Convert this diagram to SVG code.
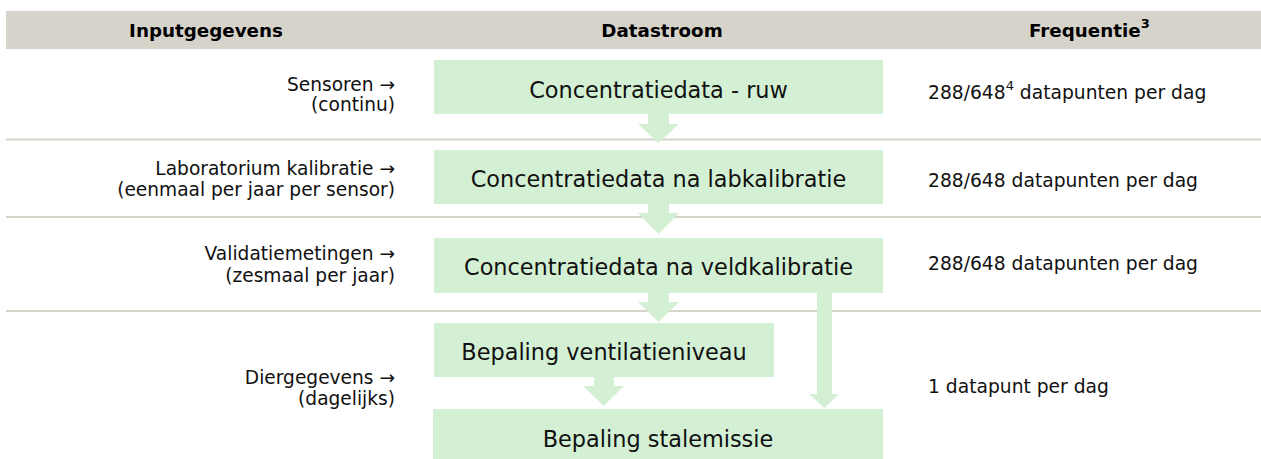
<svg xmlns="http://www.w3.org/2000/svg" width="1261" height="459" viewBox="0 0 1261 459">
<style>
.hdr{font-family:"DejaVu Sans",Verdana,sans-serif;font-weight:bold;font-size:18.3px;fill:#000}
.lab{font-family:"DejaVu Sans",Verdana,sans-serif;font-size:18.6px;fill:#111;text-anchor:end}
.frq{font-family:"DejaVu Sans",Verdana,sans-serif;font-size:18.7px;fill:#111}
.box{fill:#d4f0d4}
.btx{font-family:"DejaVu Sans",Verdana,sans-serif;font-size:22.4px;fill:#111;text-anchor:middle}
.arr{fill:#d4f0d4}
.sep{stroke:#d6d3cb;stroke-width:2}
</style>
<rect width="1261" height="459" fill="#fff"/>
<g id="header">
<rect x="6" y="11" width="1255" height="38" fill="#d6d3cb"/>
<text class="hdr" x="206" y="37" text-anchor="middle">Inputgegevens</text>
<text class="hdr" x="662" y="37" text-anchor="middle">Datastroom</text>
<text class="hdr" x="1029" y="37">Frequentie<tspan font-size="13px" dy="-9">3</tspan></text>
</g>
<g id="separators">
<line class="sep" x1="6" y1="139.5" x2="1261" y2="139.5"/>
<line class="sep" x1="6" y1="217" x2="1261" y2="217"/>
<line class="sep" x1="6" y1="311" x2="1261" y2="311"/>
</g>
<g id="inputs">
<text class="lab" x="395" y="91">Sensoren →</text>
<text class="lab" x="395" y="111">(continu)</text>
<text class="lab" x="395" y="175">Laboratorium kalibratie →</text>
<text class="lab" x="395" y="196">(eenmaal per jaar per sensor)</text>
<text class="lab" x="395" y="260">Validatiemetingen →</text>
<text class="lab" x="395" y="282">(zesmaal per jaar)</text>
<text class="lab" x="395" y="384">Diergegevens →</text>
<text class="lab" x="395" y="405">(dagelijks)</text>
</g>
<g id="frequencies">
<text class="frq" x="928" y="99">288/648<tspan font-size="13px" dy="-9">4</tspan><tspan dy="9"> datapunten per dag</tspan></text>
<text class="frq" x="928" y="187">288/648 datapunten per dag</text>
<text class="frq" x="928" y="270">288/648 datapunten per dag</text>
<text class="frq" x="928" y="393">1 datapunt per dag</text>
</g>
<g id="node-ruw">
<rect class="box" x="434" y="60" width="449" height="54"/>
<text class="btx" x="658.5" y="98">Concentratiedata - ruw</text>
</g>
<g id="node-lab">
<rect class="box" x="434" y="150" width="449" height="54"/>
<text class="btx" x="658.5" y="187">Concentratiedata na labkalibratie</text>
</g>
<g id="node-veld">
<rect class="box" x="434" y="238" width="449" height="55"/>
<text class="btx" x="658.5" y="275">Concentratiedata na veldkalibratie</text>
</g>
<g id="node-ventilatie">
<rect class="box" x="434" y="323" width="340" height="54"/>
<text class="btx" x="604" y="360">Bepaling ventilatieniveau</text>
</g>
<g id="node-stalemissie">
<rect class="box" x="433" y="409" width="450" height="50"/>
<text class="btx" x="658" y="447">Bepaling stalemissie</text>
</g>
<g id="connectors">
<polygon class="arr" points="648,114 669,114 669,124 679,124 658.5,143 638,124 648,124"/>
<polygon class="arr" points="648,204 669,204 669,213 679,213 658.5,234 638,213 648,213"/>
<polygon class="arr" points="648,293 669,293 669,302 679,302 658.5,322 638,302 648,302"/>
<polygon class="arr" points="594,377 614,377 614,386 624,386 603.5,406 583,386 594,386"/>
<polygon class="arr" points="817,293 832,293 832,394 839,394 824.5,408 809,394 817,394"/>
</g>
</svg>
